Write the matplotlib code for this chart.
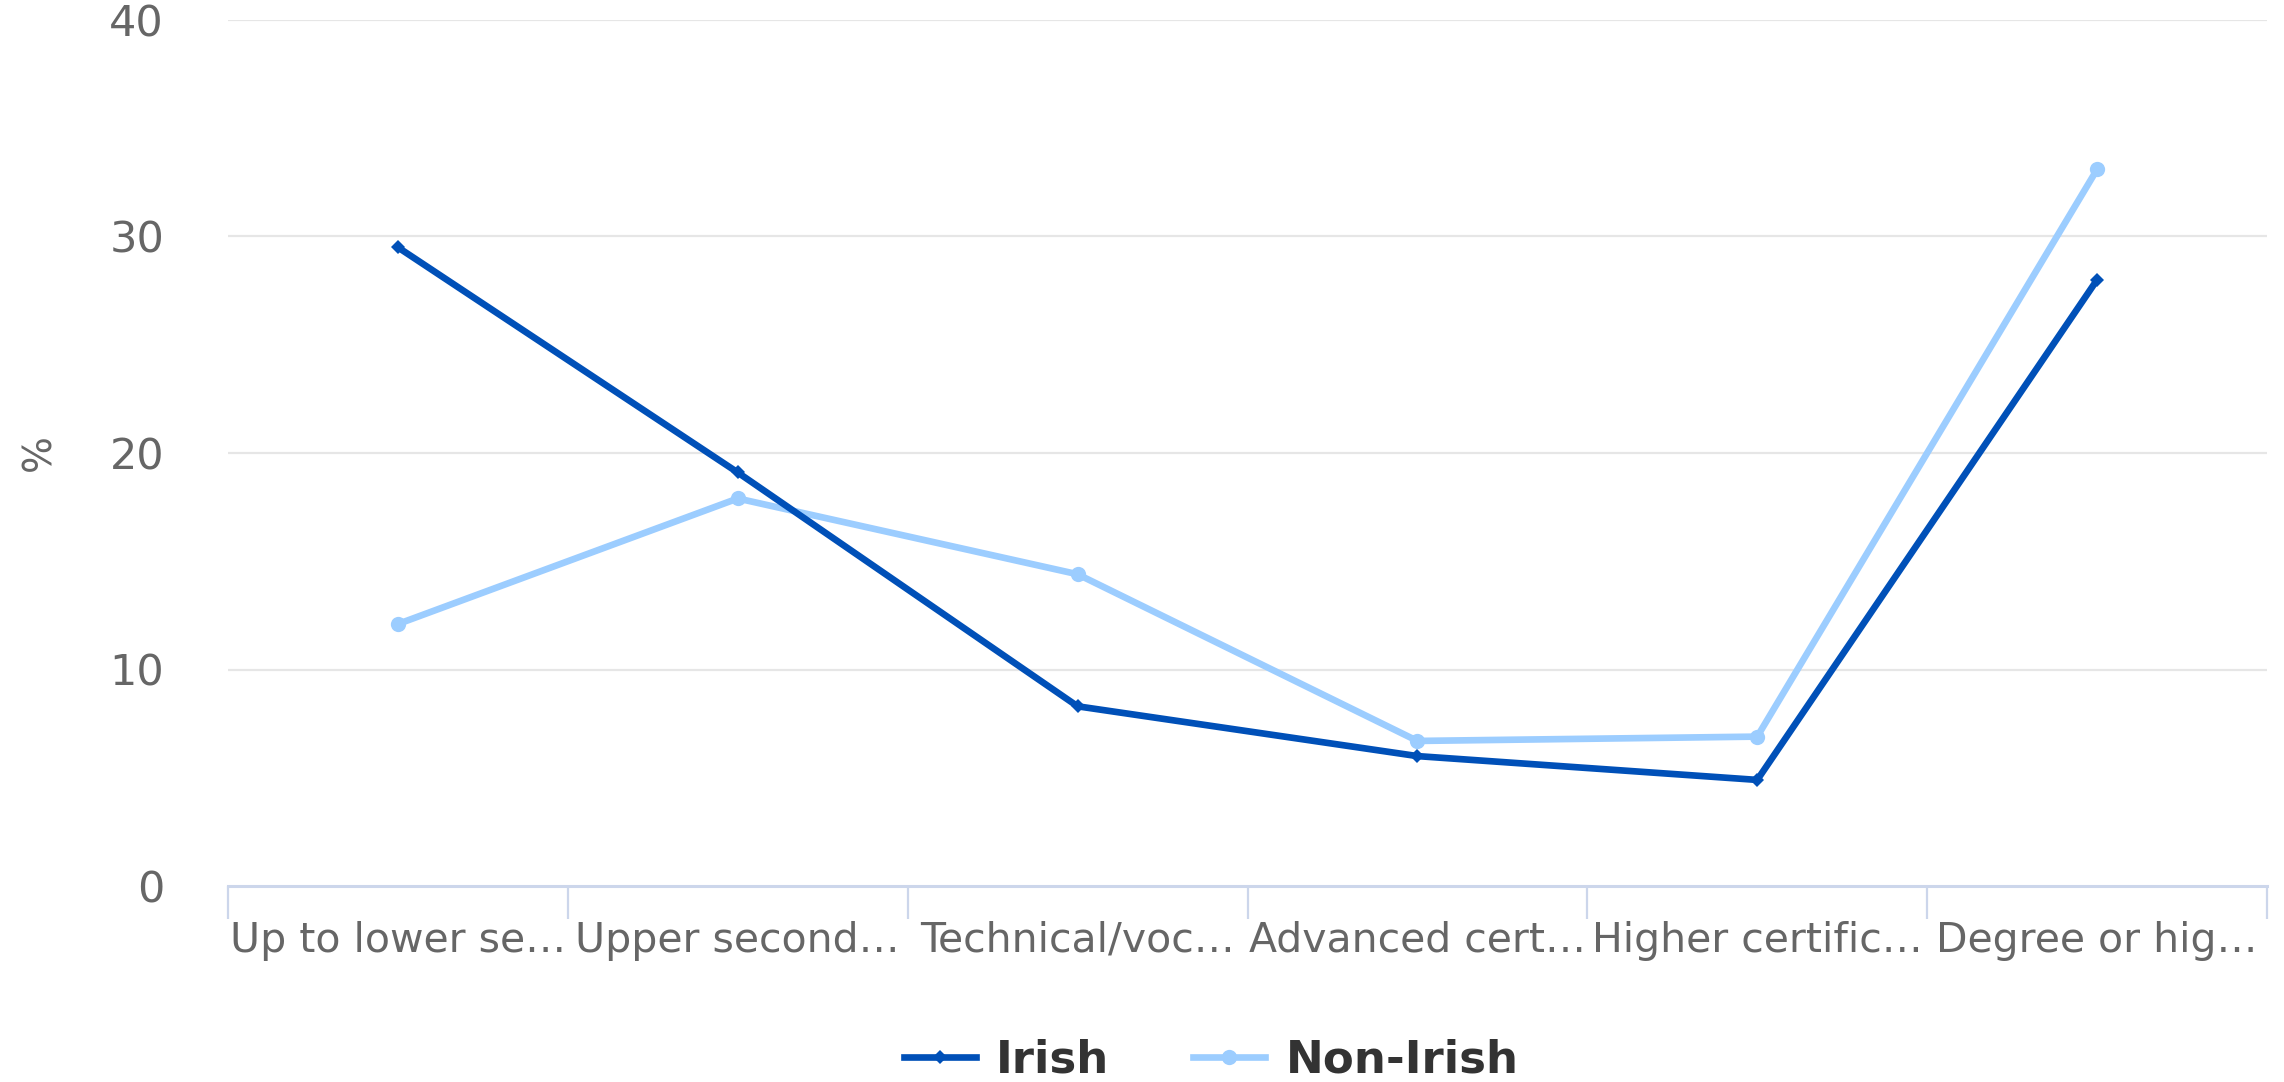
import matplotlib
matplotlib.use("Agg")
import matplotlib.pyplot as plt
from matplotlib.lines import Line2D

categories = ["Up to lower se…", "Upper second…", "Technical/voc…",
              "Advanced cert…", "Higher certific…", "Degree or hig…"]
irish = [29.5, 19.1, 8.3, 6.0, 4.9, 28.0]
non_irish = [12.1, 17.9, 14.4, 6.7, 6.9, 33.1]
yticks = [0, 10, 20, 30, 40]
series_names = ["Irish", "Non-Irish"]

C_IRISH = "#0050b8"
C_NON = "#9ccdff"
GRID = "#e6e6e6"
AXIS = "#ccd6eb"
TXT = "#666666"

W, H = 2284, 1082
fig = plt.figure(figsize=(W / 100, H / 100), dpi=100)
left, right, bottom, top = 228, 2267, 886, 20
ax = fig.add_axes([left / W, 1 - bottom / H, (right - left) / W, (bottom - top) / H])

x = list(range(len(categories)))
LW = 4.8
ax.plot(x, irish, color=C_IRISH, lw=LW, marker="D", markersize=7,
        markeredgewidth=0, zorder=4, solid_joinstyle="round")
ax.plot(x, non_irish, color=C_NON, lw=LW, marker="o", markersize=11,
        markeredgewidth=0, zorder=3, solid_joinstyle="round")

ax.set_xlim(-0.5, len(categories) - 0.5)
ax.set_ylim(0, 40)

for s in ["top", "right", "left"]:
    ax.spines[s].set_visible(False)
ax.spines["bottom"].set_color(AXIS)
ax.spines["bottom"].set_linewidth(2.2)

ax.set_yticks(yticks)
ax.set_yticklabels([str(v) for v in yticks])
ax.tick_params(axis="y", length=0, pad=46, labelsize=31, labelcolor=TXT)
for v in yticks[1:]:
    ax.axhline(v, color=GRID, lw=1.6, zorder=1)

# boundaries as major ticks, category labels as minor
ax.set_xticks([i - 0.5 for i in range(len(categories) + 1)])
ax.set_xticklabels([])
ax.set_xticks(x, minor=True)
ax.set_xticklabels(categories, minor=True)
ax.tick_params(axis="x", which="major", length=24, width=1.6, color=AXIS)
ax.tick_params(axis="x", which="minor", length=0, pad=25, labelsize=29.5, labelcolor=TXT)

ax.set_ylabel("%", fontsize=28, color=TXT)
ax.yaxis.set_label_coords((58 - left) / (right - left), 0.5)

handles = [
    Line2D([0], [0], color=C_IRISH, lw=LW, marker="D", markersize=7, markeredgewidth=0),
    Line2D([0], [0], color=C_NON, lw=LW, marker="o", markersize=11, markeredgewidth=0),
]
leg = fig.legend(handles, series_names, loc="center", bbox_to_anchor=(1211 / W, 1 - 1060 / H),
                 ncol=2, frameon=False, handlelength=1.6, handletextpad=0.45,
                 columnspacing=1.85, prop={"family": "DejaVu Sans", "weight": "bold", "size": 32.5})
for t in leg.get_texts():
    t.set_color("#333333")

fig.savefig("out.png", dpi=100, facecolor="white")
